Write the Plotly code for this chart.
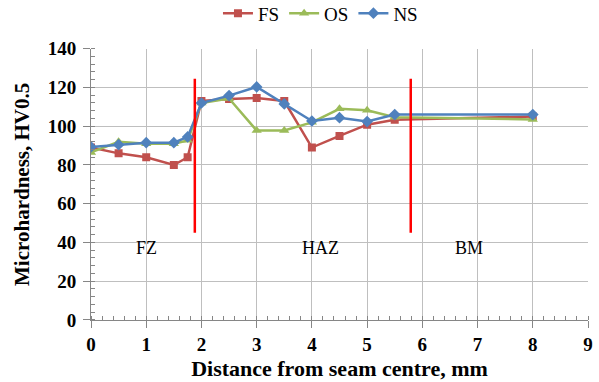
import plotly.graph_objects as go

x_pos = [0, 0.5, 1, 1.5, 1.75, 2, 2.5, 3, 3.5, 4, 4.5, 5, 5.5, 8]
fs = [89, 86, 84, 80, 84, 113, 114, 114.6, 113, 89, 95, 100.8, 103.3, 105]
os_ = [86.5, 92, 91, 91, 92.7, 112, 114.3, 97.8, 97.8, 102, 109, 108.2, 104.6, 103.5]
ns = [89.3, 90.5, 91.5, 91.5, 94.5, 112, 115.8, 120.3, 111.5, 102.7, 104.4, 102.4, 106, 106]

boundary_x = [1.88, 5.79]
boundary_y = [45, 124.5]
zone_labels = ["FZ", "HAZ", "BM"]
zone_x = [1.0, 4.15, 6.85]
zone_y = [37, 37, 37]

x_ticks = list(range(0, 10))
y_ticks = list(range(0, 141, 20))

serif = "Liberation Serif"

fig = go.Figure()
fig.add_trace(go.Scatter(x=x_pos, y=fs, name="FS", mode="lines+markers",
                         line=dict(color="#C0504D", width=2.5),
                         marker=dict(symbol="square", size=8, color="#C0504D")))
fig.add_trace(go.Scatter(x=x_pos, y=os_, name="OS", mode="lines+markers",
                         line=dict(color="#9BBB59", width=2.5),
                         marker=dict(symbol="triangle-up", size=9, color="#9BBB59")))
fig.add_trace(go.Scatter(x=x_pos, y=ns, name="NS", mode="lines+markers",
                         line=dict(color="#4F81BD", width=2.5),
                         marker=dict(symbol="diamond", size=9, color="#4F81BD")))

for bx in boundary_x:
    fig.add_shape(type="line", xref="x", yref="y", x0=bx, x1=bx,
                  y0=boundary_y[0], y1=boundary_y[1],
                  line=dict(color="#FF0000", width=2.5), layer="above")

for lab, zx, zy in zip(zone_labels, zone_x, zone_y):
    fig.add_annotation(x=zx, y=zy, xref="x", yref="y", text=lab, showarrow=False,
                       font=dict(family=serif, size=18, color="black"))

axis_common = dict(showline=True, linecolor="#868686", linewidth=1,
                   gridcolor="#BFBFBF", gridwidth=1, zeroline=False,
                   ticks="outside", ticklen=7, tickcolor="#868686",
                   automargin=True,
                   tickfont=dict(family=serif, size=19, color="black", weight="bold"))

fig.update_xaxes(range=[0, 9], tickvals=x_ticks, **axis_common,
                 minor=dict(dtick=0.2, ticks="inside", ticklen=4, tickcolor="#868686", showgrid=False),
                 title=dict(text="Distance from seam centre, mm", standoff=6,
                            font=dict(family=serif, size=22, color="black", weight="bold")))
fig.update_yaxes(range=[0, 140], tickvals=y_ticks, **axis_common,
                 ticklabelstandoff=3,
                 minor=dict(dtick=4, ticks="inside", ticklen=4, tickcolor="#868686", showgrid=False),
                 title=dict(text="Microhardness, HV0.5", standoff=12,
                            font=dict(family=serif, size=21, color="black", weight="bold")))

fig.update_layout(
    width=599, height=382,
    margin=dict(l=91, r=6, t=33, b=62),
    plot_bgcolor="white", paper_bgcolor="white",
    font=dict(family=serif, size=16, color="black"),
    legend=dict(orientation="h", xref="container", yref="container",
                x=0.535, y=0.965, xanchor="center", yanchor="middle",
                font=dict(family=serif, size=19, color="black"),
                itemwidth=30, tracegroupgap=0),
    showlegend=True,
)

fig.write_html("out.html", config={"displayModeBar": False},
               post_script="document.body.style.margin='0';")
